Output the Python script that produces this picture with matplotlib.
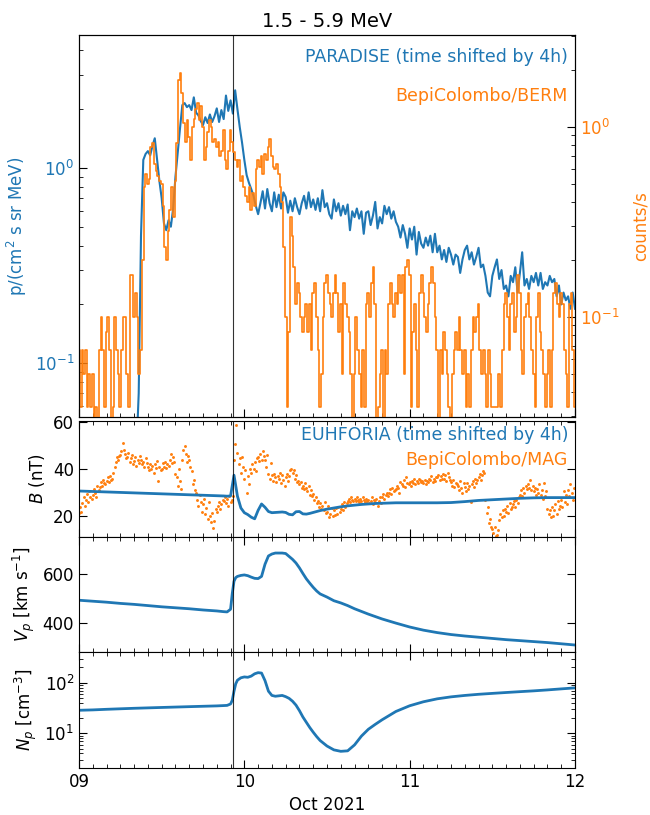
import numpy as np
import pandas as pd
import matplotlib
matplotlib.use('Agg')
import matplotlib.pyplot as plt
import matplotlib.dates as mdates

BLUE = '#1f77b4'
ORANGE = '#ff7f0e'

t0 = pd.Timestamp('2021-10-09 00:00')
t_end = pd.Timestamp('2021-10-12 00:00')
shock_hour = 22.3

# PARADISE proton intensity, 20-min cadence starting 09 Oct 08:00
paradise_flux = [
    0.03, 0.035, 0.07, 0.45, 1.10, 1.18,
    1.22, 1.16, 1.30, 1.42, 1.10, 0.86,
    0.70, 0.52, 0.48, 0.54, 0.50, 0.62,
    0.90, 1.20, 1.60, 2.10, 2.15, 2.05,
    2.10, 1.98, 2.30, 1.92, 1.86, 1.74,
    1.66, 1.82, 1.70, 1.88, 1.72, 1.84,
    2.02, 1.72, 1.98, 1.78, 2.35, 1.96,
    2.22, 1.90, 2.50, 2.00, 1.62, 1.35,
    1.10, 0.92, 0.84, 0.78, 0.72, 0.64,
    0.58, 0.66, 0.76, 0.62, 0.78, 0.66,
    0.60, 0.75, 0.63, 0.73, 0.62, 0.75,
    0.71, 0.59, 0.68, 0.60, 0.70, 0.63,
    0.58, 0.66, 0.72, 0.62, 0.75, 0.63,
    0.69, 0.61, 0.70, 0.60, 0.77, 0.63,
    0.66, 0.58, 0.55, 0.69, 0.60, 0.66,
    0.57, 0.64, 0.58, 0.65, 0.48, 0.60,
    0.56, 0.62, 0.55, 0.60, 0.46, 0.59,
    0.60, 0.51, 0.57, 0.67, 0.49, 0.56,
    0.52, 0.64, 0.58, 0.63, 0.55, 0.60,
    0.53, 0.50, 0.44, 0.51, 0.46, 0.39,
    0.49, 0.43, 0.50, 0.36, 0.47, 0.41,
    0.39, 0.44, 0.40, 0.45, 0.37, 0.46,
    0.37, 0.40, 0.34, 0.38, 0.33, 0.39,
    0.36, 0.32, 0.36, 0.35, 0.29, 0.34,
    0.38, 0.40, 0.34, 0.37, 0.32, 0.35,
    0.39, 0.31, 0.32, 0.28, 0.23, 0.22,
    0.28, 0.31, 0.34, 0.27, 0.30, 0.24,
    0.25, 0.22, 0.28, 0.26, 0.31, 0.23,
    0.29, 0.37, 0.25, 0.27, 0.24, 0.28,
    0.26, 0.29, 0.25, 0.29, 0.24, 0.26,
    0.25, 0.28, 0.26, 0.27, 0.22, 0.25,
    0.20, 0.23, 0.21, 0.22, 0.19, 0.23,
    0.19]

# BepiColombo/BERM counts per minute, 15-min cadence from 09 Oct 00:00
berm_counts_per_min = [
    4, 2, 4, 3, 4, 2, 3, 2, 3, 1,
    2, 1, 4, 6, 4, 2, 5, 6, 4, 1,
    2, 6, 4, 3, 2, 4, 6, 6, 3, 2,
    10, 10, 6, 8, 6, 3, 4, 12, 29, 34,
    30, 32, 47, 49, 38, 35, 33, 31, 30, 23,
    14, 12, 17, 22, 29, 20, 31, 49, 106, 115,
    90, 63, 50, 65, 53, 40, 60, 66, 74, 80,
    65, 77, 60, 40, 47, 56, 65, 60, 50, 52,
    47, 50, 42, 45, 58, 40, 36, 45, 58, 50,
    44, 40, 37, 40, 31, 33, 29, 26, 24, 29,
    22, 27, 23, 36, 40, 37, 42, 34, 43, 40,
    47, 52, 42, 37, 36, 38, 34, 29, 24, 14,
    6, 2, 5, 20, 16, 11, 7, 9, 8, 6,
    5, 6, 7, 5, 7, 4, 8, 9, 6, 4,
    2, 3, 6, 9, 10, 8, 7, 6, 8, 10,
    8, 5, 7, 3, 9, 7, 6, 5, 3, 1,
    3, 6, 4, 3, 2, 4, 2, 7, 8, 6,
    9, 11, 7, 1, 2, 3, 4, 1, 4, 3,
    7, 9, 7, 6, 8, 7, 10, 8, 10, 3,
    11, 12, 10, 2, 5, 7, 4, 2, 8, 10,
    8, 6, 5, 7, 9, 11, 9, 6, 4, 1,
    4, 3, 5, 4, 3, 2, 1, 3, 4, 5,
    4, 6, 4, 3, 4, 2, 3, 2, 4, 6,
    5, 6, 7, 4, 3, 4, 3, 2, 4, 3,
    2, 2, 2, 2, 3, 2, 4, 7, 8, 6,
    4, 7, 8, 5, 6, 10, 8, 4, 3, 6,
    7, 8, 6, 4, 3, 2, 6, 8, 5, 4,
    3, 2, 3, 4, 2, 4, 8, 9, 7, 6,
    8, 7, 4, 3, 2, 7, 8, 4, 2]

# BepiColombo/MAG |B| (nT), 10-min cadence from 09 Oct 00:00
mag_B = [
    21.5, 24.0, 22.0, 25.5, 28.0, 24.5,
    27.0, 29.5, 26.0, 30.5, 28.0, 27.5,
    29.0, 31.5, 30.0, 28.0, 33.0, 31.0,
    32.5, 34.5, 33.0, 35.5, 34.0, 33.5,
    35.0, 36.5, 34.5, 37.0, 35.5, 36.0,
    38.5, 41.0, 43.0, 45.0, 44.0, 45.5,
    46.0, 47.5, 51.0, 48.0, 46.5, 44.5,
    45.0, 47.0, 43.0, 44.5, 46.0, 42.0,
    43.5, 45.0, 41.5, 44.0, 42.5, 45.5,
    44.0, 42.0, 43.0, 41.0, 44.5, 42.5,
    41.0, 39.5, 42.0, 40.0, 41.5, 38.5,
    42.0, 40.5, 43.5, 35.0, 41.0, 39.5,
    40.0, 42.5, 41.0, 43.0, 40.5, 42.0,
    41.5, 44.0, 46.5, 42.5, 45.0, 43.0,
    38.0, 36.5, 33.0, 40.0, 35.0, 31.5,
    44.0, 48.0, 50.0, 46.5, 43.0, 45.5,
    44.0, 41.0, 39.0, 33.5, 35.5, 31.0,
    30.0, 27.0, 24.5, 29.0, 26.0, 22.0,
    25.0, 27.5, 21.0, 23.5, 19.0, 26.0,
    20.0, 17.5, 21.5, 15.0, 18.0, 23.0,
    22.0, 24.5, 26.0, 23.0, 25.0, 27.0,
    26.5, 28.0, 25.5, 27.5, 24.5, 28.5,
    26.0, 27.0, 28.5, 44.0, 50.5, 58.5,
    47.0, 42.0, 44.5, 38.5, 45.0, 41.0,
    36.0, 39.5, 30.0, 37.0, 33.5, 40.0,
    38.5, 42.0, 40.0, 43.0, 39.0, 44.5,
    45.0, 43.5, 46.5, 44.0, 47.5, 45.5,
    44.0, 41.0, 46.0, 38.0, 36.0, 42.5,
    37.5, 35.0, 38.0, 36.5, 34.5, 37.0,
    36.0, 38.5, 34.0, 37.5, 35.5, 33.0,
    36.5, 38.0, 35.0, 37.0, 39.5, 40.0,
    38.5, 39.5, 36.0, 37.5, 34.5, 35.0,
    33.5, 34.5, 32.0, 33.0, 31.5, 34.0,
    32.0, 30.5, 33.0, 29.0, 31.0, 28.5,
    29.5, 27.0, 28.0, 25.5, 26.5, 24.0,
    25.5, 23.0, 24.5, 22.5, 26.0, 21.5,
    22.0, 24.5, 19.5, 21.0, 23.5, 20.0,
    22.5, 20.5, 23.5, 21.0, 24.0, 22.0,
    23.0, 25.0, 22.5, 26.0, 24.0, 25.5,
    26.5, 27.5, 26.0, 28.0, 27.0, 26.5,
    27.5, 26.5, 28.0, 27.0, 26.0, 27.5,
    26.5, 28.0, 27.0, 26.0, 27.5, 26.5,
    27.0, 25.5, 26.5, 28.0, 25.0, 27.0,
    26.0, 27.5, 24.5, 26.5, 28.0, 25.5,
    28.0, 29.5, 27.5, 29.0, 30.0, 28.5,
    30.0, 31.5, 29.5, 32.0, 30.5, 31.0,
    31.5, 33.0, 32.0, 30.0, 34.5, 33.5,
    33.0, 35.5, 32.5, 36.5, 34.0, 33.5,
    34.5, 33.0, 35.0, 34.0, 36.0, 33.5,
    35.0, 34.0, 36.0, 35.5, 34.5, 35.0,
    34.0, 35.5, 33.5, 35.0, 34.5, 36.0,
    35.5, 37.0, 34.5, 36.0, 35.0, 36.5,
    36.5, 37.5, 35.5, 37.0, 36.0, 38.0,
    36.0, 37.5, 35.0, 38.5, 36.5, 35.5,
    34.5, 33.0, 35.5, 32.5, 34.0, 33.5,
    33.0, 31.0, 35.0, 32.0, 30.0, 34.0,
    32.5, 30.5, 34.0, 31.5, 33.0, 26.0,
    33.5, 35.0, 32.5, 36.0, 34.0, 35.5,
    36.5, 38.0, 35.5, 37.5, 39.0, 38.5,
    27.0, 21.5, 24.0, 17.0, 19.0, 15.5,
    14.5, 13.0, 15.5, 11.5, 12.0, 14.0,
    18.5, 21.0, 19.5, 22.5, 20.0, 23.0,
    22.0, 24.5, 21.5, 25.5, 23.0, 24.0,
    25.0, 26.5, 24.0, 27.0, 25.5, 28.0,
    29.0, 31.0, 28.5, 32.0, 30.0, 33.0,
    31.5, 33.5, 32.0, 35.5, 31.0, 33.0,
    30.5, 32.0, 29.0, 31.5, 30.0, 33.5,
    29.0, 31.0, 27.5, 34.0, 28.5, 30.5,
    23.0, 21.0, 22.5, 19.5, 24.0, 20.0,
    22.5, 25.0, 21.0, 26.5, 23.0, 24.5,
    27.0, 24.0, 30.5, 26.0, 29.0, 25.0,
    31.0, 28.5, 33.5, 30.0, 27.0, 32.0]

# EUHFORIA model (hours after 09 Oct 00:00)
euh_hours = [0, 2, 4, 6, 8, 10, 12, 14, 16, 18, 20, 21, 21.5, 22, 22.25,
             22.5, 22.75, 23, 23.5, 24, 24.5, 25, 25.5, 26, 26.5, 27, 27.5,
             28, 28.5, 29, 29.5, 30, 30.5, 31, 31.5, 32, 32.5, 33, 33.5, 34,
             34.5, 35, 36, 37, 38, 39, 40, 41, 42, 43, 44, 46, 48, 50, 52,
             54, 56, 58, 60, 62, 64, 66, 68, 70, 72]
euh_B = [30.7, 30.5, 30.3, 30.1, 29.9, 29.7, 29.5, 29.3, 29.1, 28.9, 28.7,
         28.6, 28.5, 28.6, 33.0, 37.4, 33.0, 28.5, 23.5, 21.5, 20.7, 19.6,
         18.9, 22.5, 25.2, 23.8, 22.0, 21.5, 21.6, 21.7, 21.8, 21.6, 20.8,
         20.6, 21.9, 22.0, 21.0, 20.9, 21.2, 21.6, 22.0, 22.4, 23.0, 23.5,
         24.0, 24.4, 24.7, 25.0, 25.2, 25.4, 25.5, 25.7, 25.7, 25.7, 25.7,
         25.8, 26.2, 26.7, 27.0, 27.3, 27.6, 27.8, 27.9, 27.9, 27.9]
euh_V = [492, 488, 484, 479, 475, 470, 465, 461, 457, 452, 448, 445, 444,
         455, 520, 570, 585, 590, 594, 596, 593, 587, 582, 581, 590, 640,
         674, 682, 686, 686, 686, 684, 672, 660, 645, 625, 602, 580, 562,
         545, 530, 518, 505, 490, 481, 470, 457, 446, 435, 425, 415, 398,
         382, 369, 359, 351, 345, 340, 335, 330, 326, 322, 318, 313, 308]
euh_N = [28.5, 29.0, 29.8, 30.5, 31.2, 31.8, 32.4, 33.0, 33.6, 34.2, 34.8,
         35.3, 35.6, 38.0, 45.0, 68.0, 95.0, 112, 125, 130, 128, 135, 150,
         158, 155, 110, 68, 56, 54, 55, 56, 53, 49, 43, 36, 28, 21, 16.5,
         13.0, 10.5, 8.6, 7.2, 5.6, 4.7, 4.4, 4.5, 5.9, 8.8, 12.0, 15.0,
         18.5, 27.0, 35.0, 42.0, 48.0, 52.5, 56.0, 59.0, 61.5, 64.0, 66.5,
         69.0, 72.0, 75.5, 79.0]

# ---- time axes ----
paradise_time = pd.date_range(t0 + pd.Timedelta(hours=8), periods=len(paradise_flux), freq='20min')
berm_time = pd.date_range(t0, periods=len(berm_counts_per_min), freq='15min')
berm_rate = np.array(berm_counts_per_min, dtype=float) / 60.0
mag_time = pd.date_range(t0, periods=len(mag_B), freq='10min')
euh_time = t0 + pd.to_timedelta(euh_hours, unit='h')
shock_time = t0 + pd.Timedelta(hours=shock_hour)

plt.rcParams['font.family'] = ['DejaVu Sans']
plt.rcParams['font.size'] = 12

fig = plt.figure(figsize=(6.5, 8.15), dpi=100)
W, H = 650.0, 815.0
left = 79 / W
width = 496 / W


def box(top_px, bot_px):
    return [left, 1 - bot_px / H, width, (bot_px - top_px) / H]


ax1 = fig.add_axes(box(35, 417))
ax2 = fig.add_axes(box(421, 536.5))
ax3 = fig.add_axes(box(536.5, 652.3))
ax4 = fig.add_axes(box(652.3, 768))

# ---- top panel ----
ax1.plot(paradise_time, paradise_flux, color=BLUE, lw=1.5)
ax1.set_yscale('log')
ax1.set_ylim(0.053, 4.8)
ax1.set_ylabel('p/(cm$^2$ s sr MeV)', color=BLUE, fontsize=12)
ax1.tick_params(axis='y', which='both', labelcolor=BLUE, direction='in', right=False)
ax1.tick_params(axis='x', which='both', direction='in', top=False, labelbottom=False)
ax1.set_title('1.5 - 5.9 MeV', fontsize=14)

ax1b = ax1.twinx()
ax1b.plot(berm_time, berm_rate, color=ORANGE, lw=1.2, drawstyle='steps-mid')
ax1b.set_yscale('log')
ax1b.set_ylim(0.0297, 3.04)
ax1b.set_ylabel('counts/s', color=ORANGE, fontsize=12, labelpad=9)
ax1b.tick_params(axis='y', which='both', labelcolor=ORANGE, direction='in')

ax1.text(0.986, 0.942, 'PARADISE (time shifted by 4h)', color=BLUE,
         ha='right', va='center', transform=ax1.transAxes, fontsize=12.5)
ax1.text(0.986, 0.84, 'BepiColombo/BERM', color=ORANGE,
         ha='right', va='center', transform=ax1.transAxes, fontsize=12.5)

# ---- B panel ----
ax2.plot(mag_time, mag_B, 'o', color=ORANGE, ms=2.1, mew=0)
ax2.plot(euh_time, euh_B, color=BLUE, lw=2)
ax2.set_ylim(11.4, 60.4)
ax2.set_yticks([20, 40, 60])
ax2.set_ylabel('$B$ (nT)', fontsize=12)
ax2.text(0.986, 0.875, 'EUHFORIA (time shifted by 4h)', color=BLUE,
         ha='right', va='center', transform=ax2.transAxes, fontsize=12.5)
ax2.text(0.986, 0.665, 'BepiColombo/MAG', color=ORANGE,
         ha='right', va='center', transform=ax2.transAxes, fontsize=12.5)

# ---- Vp panel ----
ax3.plot(euh_time, euh_V, color=BLUE, lw=2)
ax3.set_ylim(278, 754)
ax3.set_yticks([400, 600])
ax3.set_ylabel('$V_p$ [km s$^{-1}$]', fontsize=12)

# ---- Np panel ----
ax4.plot(euh_time, euh_N, color=BLUE, lw=2)
ax4.set_yscale('log')
ax4.set_ylim(2.06, 399)
ax4.set_ylabel('$N_p$ [cm$^{-3}$]', fontsize=12)
ax4.set_xlabel('Oct 2021', fontsize=12)

for ax in (ax1, ax2, ax3, ax4):
    ax.set_xlim(t0, t_end)
    ax.xaxis.set_major_locator(mdates.DayLocator())
    ax.xaxis.set_minor_locator(mdates.HourLocator(byhour=range(0, 24, 2)))
    ax.xaxis.set_major_formatter(mdates.DateFormatter('%d'))
    ax.axvline(shock_time, color='k', lw=0.8, alpha=0.8)
    ax.tick_params(which='major', length=6)
    ax.tick_params(which='minor', length=3)

ax1b.tick_params(which='major', length=6)
ax1b.tick_params(which='minor', length=3)

for ax in (ax2, ax3, ax4):
    ax.tick_params(axis='both', which='both', direction='in', top=True, right=True)
for ax in (ax2, ax3):
    ax.tick_params(axis='x', labelbottom=False)

fig.savefig('out.png', dpi=100)
